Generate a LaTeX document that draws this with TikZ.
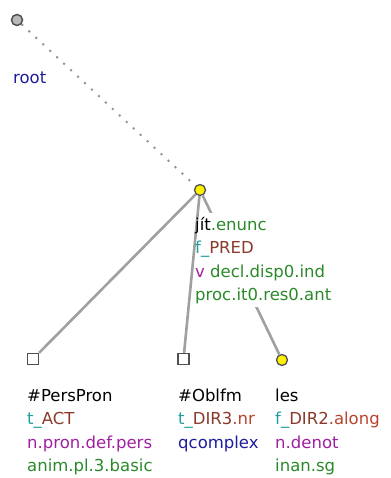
\documentclass[tikz,border=0pt]{standalone}
\usepackage{fontspec}
\setmainfont{DejaVu Sans}
\definecolor{cgreen}{HTML}{2A8A2A}
\definecolor{cteal}{HTML}{1FA0A0}
\definecolor{cbrown}{HTML}{8A3A2A}
\definecolor{cred}{HTML}{B8432E}
\definecolor{cmag}{HTML}{A020A0}
\definecolor{cnavy}{HTML}{1C1C9C}
\definecolor{edgegray}{HTML}{A0A0A0}
\definecolor{rimgray}{HTML}{505050}
\begin{document}
\begin{tikzpicture}[x=1pt,y=-1pt,
  lbl/.style={anchor=base west,inner sep=0pt,font=\fontsize{16.5}{23.6}\selectfont},
  edge/.style={draw=edgegray,line width=2.6pt},
  rootedge/.style={draw=gray!85,line width=2pt,dash pattern=on 2pt off 7.5pt},
  rootnode/.style={circle,draw=rimgray,line width=1.5pt,fill=gray!55,minimum size=11pt,inner sep=0pt},
  yelnode/.style={circle,draw=rimgray,line width=1.3pt,fill=yellow,minimum size=11pt,inner sep=0pt},
  sqnode/.style={rectangle,draw=rimgray,line width=1.3pt,fill=white,minimum size=11pt,inner sep=0pt}]
\useasboundingbox (0,0) rectangle (390,478);
\node[rootnode] (r) at (17,20) {};
\node[yelnode] (p) at (200,190) {};
\node[sqnode] (a) at (33,359) {};
\node[sqnode] (b) at (183.5,359) {};
\node[yelnode] (c) at (282,360) {};
% edge hidden partly by the predicate label's background
\draw[edge] (p) -- (c);
\fill[white] (199,212.5) rectangle (335,307);
\draw[rootedge] (r) -- (p);
\draw[edge] (p) -- (a);
\draw[edge] (p) -- (b);
\node[lbl,text=cnavy] (rl) at (13,84) {root};
% predicate label
\node[lbl] (p1) at (195,230) {jít\textcolor{cgreen}{.enunc}};
\node[lbl] (p2) at (195,253.6) {\textcolor{cteal}{f\_}\textcolor{cbrown}{PRED}};
\node[lbl] (p3) at (195,277.2) {\textcolor{cmag}{v} \textcolor{cgreen}{decl.disp0.ind}};
\node[lbl,text=cgreen] (p4) at (195,300.8) {proc.it0.res0.ant};
% child labels
\node[lbl] (a1) at (27,401) {\#PersPron};
\node[lbl] (a2) at (27,424.6) {\textcolor{cteal}{t\_}\textcolor{cbrown}{ACT}};
\node[lbl,text=cmag] (a3) at (27,448.2) {n.pron.def.pers};
\node[lbl,text=cgreen] (a4) at (27,471.8) {anim.pl.3.basic};
\node[lbl] (b1) at (178,401) {\#Oblfm};
\node[lbl] (b2) at (178,424.6) {\textcolor{cteal}{t\_}\textcolor{cbrown}{DIR3}\textcolor{cred}{.nr}};
\node[lbl,text=cnavy] (b3) at (178,448.2) {qcomplex};
\node[lbl] (c1) at (275,401) {les};
\node[lbl] (c2) at (275,424.6) {\textcolor{cteal}{f\_}\textcolor{cbrown}{DIR2}\textcolor{cred}{.along}};
\node[lbl,text=cmag] (c3) at (275,448.2) {n.denot};
\node[lbl,text=cgreen] (c4) at (275,471.8) {inan.sg};
\end{tikzpicture}
\end{document}
